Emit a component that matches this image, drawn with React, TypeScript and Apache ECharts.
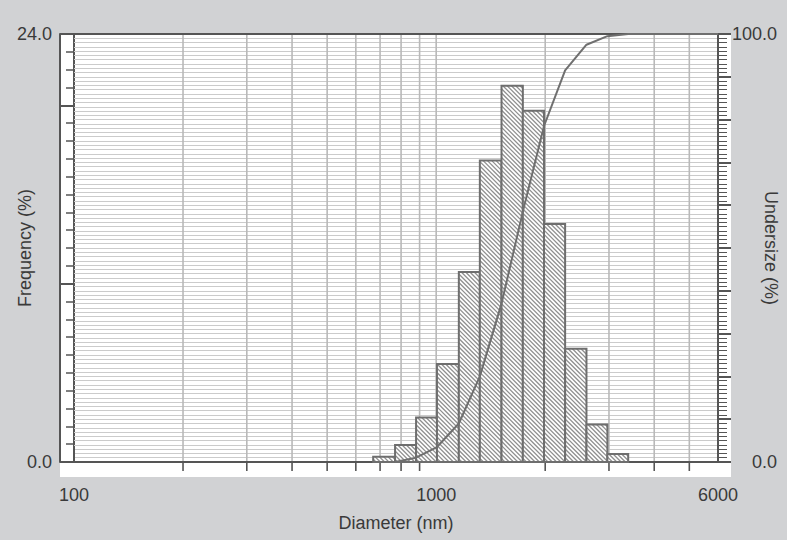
import React, { useEffect, useRef } from 'react';
import * as echarts from 'echarts';

// ---- data ----
const binStart = [670, 770, 880, 1005, 1155, 1320, 1515, 1735, 1985, 2270, 2600, 2970];
const binEnd = [770, 880, 1005, 1155, 1320, 1515, 1735, 1985, 2270, 2600, 2970, 3390];
const frequency = [0.3, 0.95, 2.5, 5.5, 10.65, 16.9, 21.1, 19.7, 13.35, 6.35, 2.1, 0.45];
const curveDiameter = [770, 880, 1005, 1155, 1320, 1515, 1735, 1985, 2270, 2600, 2970, 3390, 6000];
const undersize = [0, 1.0, 3.5, 9.0, 20, 37, 58.5, 78.5, 91.5, 97.5, 99.5, 100, 100];
const xGridValues = [200, 300, 400, 500, 600, 700, 800, 900, 1000, 2000, 3000, 4000, 5000];
const xTickLabels = [100, 1000, 6000];
const leftTickLabels = [0, 24];
const rightTickLabels = [0, 100];

// ---- layout / style ----
const W = 787;
const H = 540;
const GRID = { left: 74, right: 69, top: 34, bottom: 78 };
const LEFT_OFFSET = 14;
const BOTTOM_OFFSET = 15;
const RIGHT_STRIP = 13;
const FONT = "'Liberation Sans', Arial, sans-serif";
const TEXT = '#3a3a3a';
const AXIS = '#555555';

const labelStyle = { color: TEXT, fontSize: 18, fontFamily: FONT };

function buildOption() {
  const barData = binStart.map((s, i) => [s, binEnd[i], frequency[i]]);
  const curveData = curveDiameter.map((d, i) => [d, undersize[i]]);
  const gridData = xGridValues.map((v) => [v, 0]);

  return {
    animation: false,
    backgroundColor: '#d1d2d4',
    textStyle: { fontFamily: FONT },
    graphic: [
      {
        type: 'rect',
        z: -1,
        silent: true,
        shape: {
          x: GRID.left - LEFT_OFFSET,
          y: GRID.top,
          width: W - GRID.right + RIGHT_STRIP - (GRID.left - LEFT_OFFSET),
          height: H - GRID.bottom + BOTTOM_OFFSET - GRID.top,
        },
        style: { fill: '#ffffff' },
      },
    ],
    grid: {
      ...GRID,
      outerBoundsMode: 'none',
      containLabel: false,
      show: true,
      backgroundColor: '#ffffff',
      borderColor: AXIS,
      borderWidth: 2,
    },
    xAxis: [
      {
        type: 'log',
        logBase: 10,
        min: 100,
        max: 6000,
        position: 'bottom',
        offset: BOTTOM_OFFSET,
        axisLine: { show: true, lineStyle: { color: AXIS, width: 2 } },
        axisTick: { show: true, inside: true, length: BOTTOM_OFFSET, lineStyle: { color: AXIS, width: 2 } },
        axisLabel: {
          ...labelStyle,
          margin: 9,
          showMinLabel: true,
          showMaxLabel: true,
          formatter: (v: number) => {
            const r = Math.round(v);
            return xTickLabels.includes(r) ? String(r) : '';
          },
        },
        splitLine: { show: false },
        name: 'Diameter (nm)',
        nameLocation: 'middle',
        nameGap: 37,
        nameMoveOverlap: false,
        nameTextStyle: { ...labelStyle },
      },
    ],
    yAxis: [
      {
        type: 'value',
        min: 0,
        max: 24,
        interval: 10,
        position: 'left',
        offset: LEFT_OFFSET,
        axisLine: { show: true, lineStyle: { color: AXIS, width: 2 } },
        axisTick: { show: true, inside: true, length: LEFT_OFFSET, lineStyle: { color: AXIS, width: 2 } },
        axisLabel: {
          ...labelStyle,
          margin: 8,
          showMinLabel: true,
          showMaxLabel: true,
          formatter: (v: number) => (leftTickLabels.includes(v) ? v.toFixed(1) : ''),
        },
        splitLine: { show: false },
        name: 'Frequency (%)',
        nameLocation: 'middle',
        nameGap: 26,
        nameMoveOverlap: false,
        nameTextStyle: { ...labelStyle },
      },
      {
        type: 'value',
        min: 0,
        max: 100,
        interval: 10,
        position: 'right',
        offset: 0,
        axisLine: { show: true, lineStyle: { color: AXIS, width: 2 } },
        axisTick: { show: true, inside: false, length: RIGHT_STRIP, lineStyle: { color: AXIS, width: 2 } },
        minorTick: { show: true, splitNumber: 10, length: 9, lineStyle: { color: AXIS, width: 1 } },
        splitLine: { show: true, showMinLine: false, showMaxLine: false, lineStyle: { color: '#cbcbcb', width: 1.2 } },
        minorSplitLine: { show: true, lineStyle: { color: '#cbcbcb', width: 1.2 } },
        axisLabel: {
          ...labelStyle,
          align: 'right',
          margin: 59,
          showMinLabel: true,
          showMaxLabel: true,
          formatter: (v: number) => (rightTickLabels.includes(v) ? v.toFixed(1) : ''),
        },
        name: 'Undersize (%)',
        nameLocation: 'middle',
        nameRotate: -90,
        nameGap: 44,
        nameMoveOverlap: false,
        nameTextStyle: { ...labelStyle },
      },
      {
        type: 'value',
        min: 0,
        max: 24,
        interval: 1,
        position: 'left',
        offset: 0,
        axisLine: { show: false },
        axisTick: { show: true, inside: false, length: 8, lineStyle: { color: AXIS, width: 1.5 } },
        axisLabel: { show: false },
        splitLine: { show: false },
      },
    ],
    series: [
      {
        type: 'custom',
        name: 'xgrid',
        xAxisIndex: 0,
        yAxisIndex: 1,
        z: 1,
        silent: true,
        clip: false,
        encode: { x: 0, y: 1 },
        data: gridData,
        renderItem: (params: any, api: any) => {
          const v = api.value(0);
          const top = api.coord([v, 100]);
          const bot = api.coord([v, 0]);
          const children: any[] = [
            {
              type: 'line',
              shape: { x1: top[0], y1: top[1] + 1, x2: bot[0], y2: bot[1] - 1 },
              style: { stroke: '#b9b9b9', lineWidth: 1.6 },
            },
          ];
          if (!xTickLabels.includes(v)) {
            children.push({
              type: 'line',
              shape: { x1: bot[0], y1: bot[1], x2: bot[0], y2: bot[1] + 9 },
              style: { stroke: AXIS, lineWidth: 1.6 },
            });
          }
          return { type: 'group', children };
        },
      },
      {
        type: 'custom',
        name: 'Frequency',
        xAxisIndex: 0,
        yAxisIndex: 0,
        z: 2,
        encode: { x: [0, 1], y: 2 },
        data: barData,
        renderItem: (params: any, api: any) => {
          const p0 = api.coord([api.value(0), 0]);
          const p1 = api.coord([api.value(1), api.value(2)]);
          const left = p0[0];
          const right = p1[0];
          const bottom = p0[1];
          const top = p1[1];
          const shape = { x: left, y: top, width: right - left, height: bottom - top };
          const children: any[] = [{ type: 'rect', shape, style: { fill: '#ffffff' } }];
          const P = 4.3;
          const kMin = Math.ceil((top - right) / P);
          const kMax = Math.floor((bottom - left) / P);
          for (let k = kMin; k <= kMax; k++) {
            const c = k * P;
            const xa = Math.max(left, top - c);
            const xb = Math.min(right, bottom - c);
            if (xb > xa) {
              children.push({
                type: 'line',
                shape: { x1: xa, y1: xa + c, x2: xb, y2: xb + c },
                style: { stroke: '#8f8f8f', lineWidth: 1.3 },
              });
            }
          }
          children.push({
            type: 'rect',
            shape,
            style: { fill: 'transparent', stroke: '#6e6e6e', lineWidth: 2 },
          });
          return { type: 'group', children };
        },
      },
      {
        type: 'line',
        name: 'Undersize',
        xAxisIndex: 0,
        yAxisIndex: 1,
        z: 3,
        showSymbol: false,
        symbol: 'none',
        clip: false,
        lineStyle: { color: '#6f6f6f', width: 2 },
        data: curveData,
      },
    ],
  };
}

export default function App() {
  const ref = useRef<HTMLDivElement>(null);
  useEffect(() => {
    if (!ref.current) return;
    const chart = echarts.init(ref.current, null, { renderer: 'svg' });
    chart.setOption(buildOption() as any);
    return () => chart.dispose();
  }, []);
  return (
    <div
      ref={ref}
      style={{ position: 'absolute', left: 0, top: 0, width: W, height: H }}
    />
  );
}
